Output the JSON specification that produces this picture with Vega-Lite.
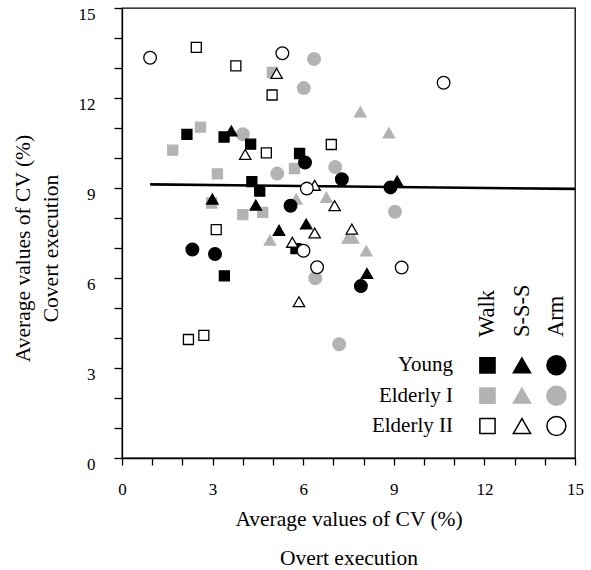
{
  "$schema": "https://vega.github.io/schema/vega-lite/v6.json",
  "width": 453,
  "height": 450,
  "autosize": {"type": "none"},
  "padding": {"left": 122, "top": 8, "right": 16, "bottom": 112},
  "config": {
    "font": "Liberation Serif",
    "view": {"stroke": "#000000", "strokeWidth": 1.3},
    "axis": {"labelColor": "#000000", "titleColor": "#000000", "domainColor": "#000000", "tickColor": "#000000", "domainWidth": 1.3, "tickWidth": 1.3, "grid": false, "titleFontWeight": "normal"}
  },
  "datasets": {
    "points": [
      {"overt": 2.60, "covert": 11.03, "group": "Elderly I", "task": "Walk"},
      {"overt": 1.68, "covert": 10.26, "group": "Elderly I", "task": "Walk"},
      {"overt": 3.16, "covert": 9.47, "group": "Elderly I", "task": "Walk"},
      {"overt": 5.71, "covert": 9.65, "group": "Elderly I", "task": "Walk"},
      {"overt": 4.00, "covert": 8.11, "group": "Elderly I", "task": "Walk"},
      {"overt": 4.66, "covert": 8.19, "group": "Elderly I", "task": "Walk"},
      {"overt": 4.98, "covert": 12.85, "group": "Elderly I", "task": "Walk"},
      {"overt": 2.97, "covert": 8.50, "group": "Elderly I", "task": "Walk"},
      {"overt": 7.89, "covert": 11.54, "group": "Elderly I", "task": "S-S-S"},
      {"overt": 8.84, "covert": 10.84, "group": "Elderly I", "task": "S-S-S"},
      {"overt": 5.77, "covert": 8.63, "group": "Elderly I", "task": "S-S-S"},
      {"overt": 6.77, "covert": 8.69, "group": "Elderly I", "task": "S-S-S"},
      {"overt": 4.90, "covert": 7.26, "group": "Elderly I", "task": "S-S-S"},
      {"overt": 7.48, "covert": 7.33, "group": "Elderly I", "task": "S-S-S"},
      {"overt": 7.65, "covert": 7.33, "group": "Elderly I", "task": "S-S-S"},
      {"overt": 8.09, "covert": 6.90, "group": "Elderly I", "task": "S-S-S"},
      {"overt": 6.36, "covert": 13.30, "group": "Elderly I", "task": "Arm"},
      {"overt": 6.02, "covert": 12.33, "group": "Elderly I", "task": "Arm"},
      {"overt": 4.00, "covert": 10.79, "group": "Elderly I", "task": "Arm"},
      {"overt": 7.06, "covert": 9.70, "group": "Elderly I", "task": "Arm"},
      {"overt": 5.14, "covert": 9.48, "group": "Elderly I", "task": "Arm"},
      {"overt": 9.04, "covert": 8.21, "group": "Elderly I", "task": "Arm"},
      {"overt": 6.40, "covert": 5.99, "group": "Elderly I", "task": "Arm"},
      {"overt": 7.19, "covert": 3.79, "group": "Elderly I", "task": "Arm"},
      {"overt": 2.15, "covert": 10.79, "group": "Young", "task": "Walk"},
      {"overt": 3.38, "covert": 10.70, "group": "Young", "task": "Walk"},
      {"overt": 4.26, "covert": 10.46, "group": "Young", "task": "Walk"},
      {"overt": 5.88, "covert": 10.15, "group": "Young", "task": "Walk"},
      {"overt": 4.30, "covert": 9.21, "group": "Young", "task": "Walk"},
      {"overt": 4.56, "covert": 8.90, "group": "Young", "task": "Walk"},
      {"overt": 5.76, "covert": 6.98, "group": "Young", "task": "Walk"},
      {"overt": 3.39, "covert": 6.07, "group": "Young", "task": "Walk"},
      {"overt": 3.62, "covert": 10.90, "group": "Young", "task": "S-S-S"},
      {"overt": 2.99, "covert": 8.63, "group": "Young", "task": "S-S-S"},
      {"overt": 4.43, "covert": 8.43, "group": "Young", "task": "S-S-S"},
      {"overt": 5.20, "covert": 7.59, "group": "Young", "task": "S-S-S"},
      {"overt": 6.10, "covert": 7.80, "group": "Young", "task": "S-S-S"},
      {"overt": 8.11, "covert": 6.15, "group": "Young", "task": "S-S-S"},
      {"overt": 9.11, "covert": 9.23, "group": "Young", "task": "S-S-S"},
      {"overt": 6.06, "covert": 9.85, "group": "Young", "task": "Arm"},
      {"overt": 7.28, "covert": 9.29, "group": "Young", "task": "Arm"},
      {"overt": 8.89, "covert": 9.02, "group": "Young", "task": "Arm"},
      {"overt": 5.58, "covert": 8.41, "group": "Young", "task": "Arm"},
      {"overt": 2.33, "covert": 6.95, "group": "Young", "task": "Arm"},
      {"overt": 3.08, "covert": 6.80, "group": "Young", "task": "Arm"},
      {"overt": 7.91, "covert": 5.73, "group": "Young", "task": "Arm"},
      {"overt": 2.46, "covert": 13.69, "group": "Elderly II", "task": "Walk"},
      {"overt": 3.77, "covert": 13.07, "group": "Elderly II", "task": "Walk"},
      {"overt": 4.97, "covert": 12.10, "group": "Elderly II", "task": "Walk"},
      {"overt": 4.78, "covert": 10.17, "group": "Elderly II", "task": "Walk"},
      {"overt": 6.93, "covert": 10.45, "group": "Elderly II", "task": "Walk"},
      {"overt": 3.12, "covert": 7.61, "group": "Elderly II", "task": "Walk"},
      {"overt": 2.20, "covert": 3.95, "group": "Elderly II", "task": "Walk"},
      {"overt": 2.71, "covert": 4.09, "group": "Elderly II", "task": "Walk"},
      {"overt": 5.12, "covert": 12.82, "group": "Elderly II", "task": "S-S-S"},
      {"overt": 4.08, "covert": 10.12, "group": "Elderly II", "task": "S-S-S"},
      {"overt": 6.38, "covert": 9.09, "group": "Elderly II", "task": "S-S-S"},
      {"overt": 7.04, "covert": 8.41, "group": "Elderly II", "task": "S-S-S"},
      {"overt": 6.38, "covert": 7.50, "group": "Elderly II", "task": "S-S-S"},
      {"overt": 7.61, "covert": 7.63, "group": "Elderly II", "task": "S-S-S"},
      {"overt": 5.64, "covert": 7.19, "group": "Elderly II", "task": "S-S-S"},
      {"overt": 5.86, "covert": 5.21, "group": "Elderly II", "task": "S-S-S"},
      {"overt": 0.93, "covert": 13.34, "group": "Elderly II", "task": "Arm"},
      {"overt": 5.31, "covert": 13.49, "group": "Elderly II", "task": "Arm"},
      {"overt": 10.65, "covert": 12.51, "group": "Elderly II", "task": "Arm"},
      {"overt": 6.12, "covert": 8.98, "group": "Elderly II", "task": "Arm"},
      {"overt": 6.01, "covert": 6.91, "group": "Elderly II", "task": "Arm"},
      {"overt": 6.46, "covert": 6.36, "group": "Elderly II", "task": "Arm"},
      {"overt": 9.26, "covert": 6.35, "group": "Elderly II", "task": "Arm"}
    ],
    "fit": [
      {"overt": 0.93, "covert": 9.12},
      {"overt": 15, "covert": 8.97}
    ],
    "legend": [
      {"group": "Young", "task": "Walk"},
      {"group": "Young", "task": "S-S-S"},
      {"group": "Young", "task": "Arm"},
      {"group": "Elderly I", "task": "Walk"},
      {"group": "Elderly I", "task": "S-S-S"},
      {"group": "Elderly I", "task": "Arm"},
      {"group": "Elderly II", "task": "Walk"},
      {"group": "Elderly II", "task": "S-S-S"},
      {"group": "Elderly II", "task": "Arm"}
    ],
    "groups": [
      {"group": "Young"},
      {"group": "Elderly I"},
      {"group": "Elderly II"}
    ],
    "tasks": [
      {"task": "Walk"},
      {"task": "S-S-S"},
      {"task": "Arm"}
    ]
  },
  "layer": [
    {
      "encoding": {
        "x": {
          "field": "overt", "type": "quantitative",
          "scale": {"domain": [0, 15], "nice": false, "zero": false},
          "axis": {
            "values": [0,1,2,3,4,5,6,7,8,9,10,11,12,13,14,15],
            "labelExpr": "datum.value % 3 === 0 ? datum.label : ''",
            "tickSize": 7, "labelFontSize": 17, "labelPadding": 29, "labelBaseline": "alphabetic",
            "labelFlush": false, "labelOverlap": false,
            "title": ["Average values of CV (%)", "Overt execution"],
            "titleFontSize": 21.5, "titleBaseline": "alphabetic", "titleY": 67, "titleX": 226.5,
            "titleAlign": "center", "titleAnchor": "middle", "titleLineHeight": 39
          }
        },
        "y": {
          "field": "covert", "type": "quantitative",
          "scale": {"domain": [0, 15], "nice": false, "zero": false},
          "axis": {
            "values": [0,1,2,3,4,5,6,7,8,9,10,11,12,13,14,15],
            "labelExpr": "datum.value % 3 === 0 ? datum.label : ''",
            "tickSize": 8, "labelFontSize": 17, "labelPadding": 19, "labelOffset": 6,
            "labelFlush": false, "labelOverlap": false,
            "title": ["Average values of CV  (%)", "Covert execution"],
            "titleFontSize": 21.5, "titleAngle": 270, "titleBaseline": "alphabetic",
            "titleX": -93, "titleY": 240, "titleAlign": "center", "titleAnchor": "middle", "titleLineHeight": 28
          }
        }
      },
      "layer": [
        {
          "data": {"name": "fit"},
          "mark": {"type": "line", "color": "#000000", "strokeWidth": 2.6},
          "encoding": {}
        },
        {
          "data": {"name": "points"},
          "mark": {"type": "point", "filled": true, "opacity": 1, "strokeWidth": 1.3},
          "encoding": {
            "shape": {"field": "task", "type": "nominal", "scale": {"domain": ["Walk", "S-S-S", "Arm"], "range": ["square", "triangle-up", "circle"]}, "legend": null},
            "fill": {"field": "group", "type": "nominal", "scale": {"domain": ["Young", "Elderly I", "Elderly II"], "range": ["#000000", "#b3b3b3", "#ffffff"]}, "legend": null},
            "stroke": {"field": "group", "type": "nominal", "scale": {"domain": ["Young", "Elderly I", "Elderly II"], "range": ["#000000", "#b3b3b3", "#000000"]}, "legend": null},
            "size": {"field": "task", "type": "ordinal", "scale": {"domain": ["Walk", "S-S-S", "Arm"], "range": [100, 160, 125]}, "legend": null}
          }
        }
      ]
    },
    {
      "layer": [
        {
          "data": {"name": "legend"},
          "mark": {"type": "point", "filled": true, "opacity": 1, "strokeWidth": 1.5},
          "encoding": {
            "x": {"field": "task", "type": "nominal", "scale": {"type": "point", "domain": ["label", "Walk", "S-S-S", "Arm"], "range": [331, 434.4], "padding": 0}, "axis": null},
            "y": {"field": "group", "type": "nominal", "scale": {"type": "point", "domain": ["header", "Young", "Elderly I", "Elderly II"], "range": [327, 418], "padding": 0}, "axis": null},
            "shape": {"field": "task", "type": "nominal", "legend": null},
            "fill": {"field": "group", "type": "nominal", "legend": null},
            "stroke": {"field": "group", "type": "nominal", "legend": null},
            "size": {"field": "task", "type": "ordinal", "scale": {"domain": ["Walk", "S-S-S", "Arm"], "range": [230, 360, 340]}, "legend": null}
          }
        },
        {
          "data": {"name": "groups"},
          "mark": {"type": "text", "align": "right", "baseline": "middle", "fontSize": 21, "color": "#000000"},
          "encoding": {
            "x": {"datum": "label", "type": "nominal", "axis": null},
            "y": {"field": "group", "type": "nominal", "axis": null},
            "text": {"field": "group"}
          }
        },
        {
          "data": {"name": "tasks"},
          "mark": {"type": "text", "align": "left", "baseline": "middle", "angle": 270, "fontSize": 22.5, "dx": -2, "color": "#000000"},
          "encoding": {
            "x": {"field": "task", "type": "nominal", "axis": null},
            "y": {"datum": "header", "type": "nominal", "axis": null},
            "text": {"field": "task"}
          }
        }
      ]
    }
  ],
  "resolve": {"scale": {"x": "independent", "y": "independent", "size": "independent"}}
}
